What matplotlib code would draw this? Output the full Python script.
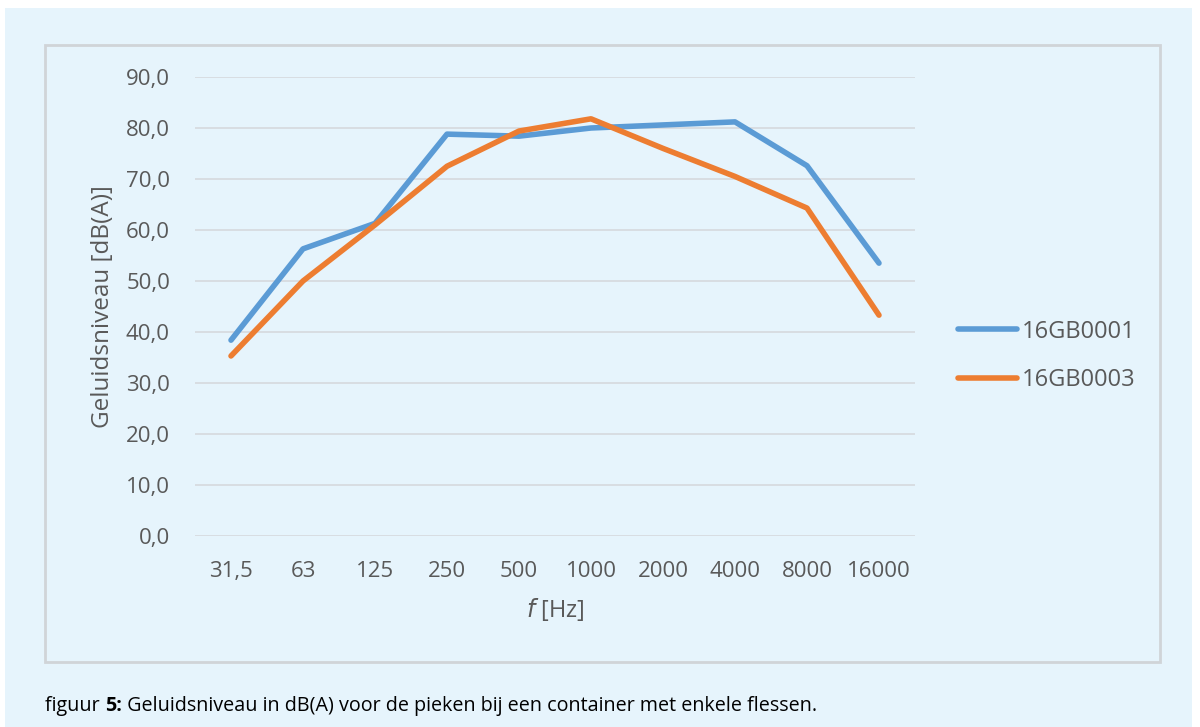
import matplotlib.pyplot as plt
from matplotlib.patches import Rectangle

categories = ["31,5", "63", "125", "250", "500", "1000", "2000", "4000", "8000", "16000"]
series_1 = [38.4, 56.3, 61.3, 78.8, 78.4, 80.0, 80.6, 81.2, 72.6, 53.5]
series_2 = [35.3, 50.0, 61.0, 72.5, 79.4, 81.8, 76.0, 70.5, 64.3, 43.3]
names = ["16GB0001", "16GB0003"]
yticks = [0, 10, 20, 30, 40, 50, 60, 70, 80, 90]

BG = "#E6F4FC"
fig = plt.figure(figsize=(12, 7.27), dpi=100)
fig.patch.set_facecolor("white")
W, H = 1200, 727
def fx(x): return x / W
def fy(y): return 1 - y / H

fig.patches.append(Rectangle((fx(5), 0), fx(1192) - fx(5), fy(8), transform=fig.transFigure,
                             facecolor=BG, edgecolor="none", zorder=-3))
fig.patches.append(Rectangle((fx(45), fy(662)), fx(1160) - fx(45), fy(45) - fy(662),
                             transform=fig.transFigure, facecolor=BG,
                             edgecolor="#D0D4D8", linewidth=2, zorder=-2))

ax = fig.add_axes([fx(195), fy(536), fx(915) - fx(195), fy(77) - fy(536)])
ax.set_facecolor("none")
x = list(range(len(categories)))
ax.plot(x, series_1, color="#5B9BD5", lw=4, solid_capstyle="round", label=names[0], zorder=3)
ax.plot(x, series_2, color="#ED7D31", lw=4, solid_capstyle="round", label=names[1], zorder=3)
ax.set_xlim(-0.5, len(categories) - 0.5)
ax.set_ylim(0, 90)
ax.set_yticks(yticks)
ax.set_yticklabels([f"{v:.1f}".replace(".", ",") for v in yticks])
ax.set_xticks(x)
ax.set_xticklabels(categories)
for s in ax.spines.values():
    s.set_visible(False)
ax.grid(axis="y", color="#D6D9DD", lw=1.2)
ax.tick_params(length=0, labelsize=16, labelcolor="#595959")
ax.tick_params(axis="y", pad=18)
ax.tick_params(axis="x", pad=18)
for lab in ax.get_xticklabels() + ax.get_yticklabels():
    lab.set_family("Open Sans")
ax.set_ylabel("Geluidsniveau [dB(A)]", fontsize=17.5, color="#595959", family="Open Sans", labelpad=8)
ax.set_xlabel(r"$\it{f}$ [Hz]", fontsize=17, color="#595959", family="Open Sans", labelpad=10)

leg = fig.legend(loc="center left", bbox_to_anchor=(fx(958), fy(356)), frameon=False,
                 prop={"family": "Open Sans", "size": 17}, labelcolor="#595959",
                 handlelength=2.5, labelspacing=1.05, handletextpad=0.2, borderpad=0,
                 borderaxespad=0)

t = fig.text(fx(45), fy(706), "figuur ", fontsize=14.2, family="Open Sans", va="center")
fig.canvas.draw()
r = fig.canvas.get_renderer()
bb = t.get_window_extent(r)
t2 = fig.text(bb.x1 / W, fy(706), "5:", fontsize=14.2, family="Open Sans", weight="bold", va="center")
bb2 = t2.get_window_extent(r)
fig.text(bb2.x1 / W, fy(706), " Geluidsniveau in dB(A) voor de pieken bij een container met enkele flessen.",
         fontsize=14.2, family="Open Sans", va="center")

fig.savefig("out.png", dpi=100, facecolor=fig.get_facecolor())
